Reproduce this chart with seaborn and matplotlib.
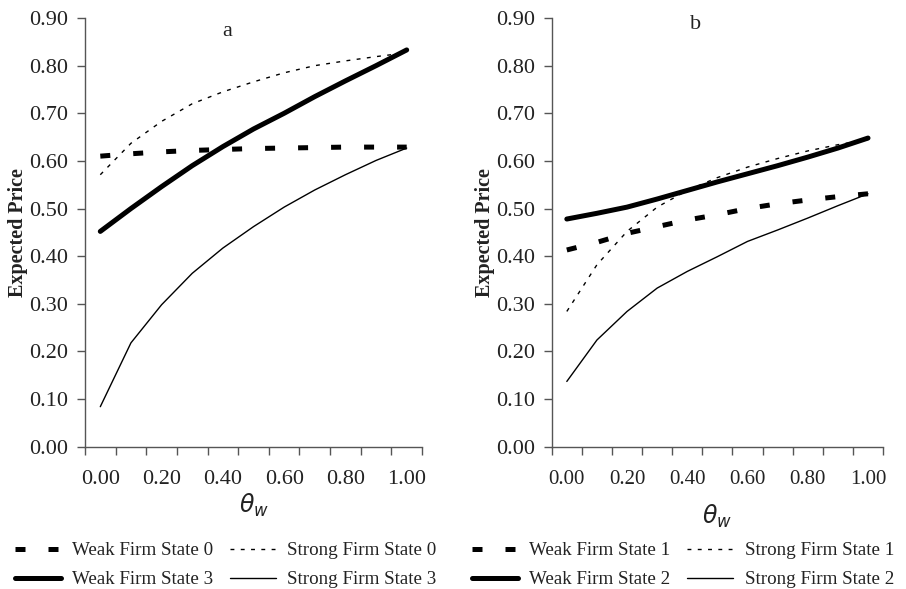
import numpy as np
import pandas as pd
import matplotlib
matplotlib.use("Agg")
import matplotlib.pyplot as plt
import matplotlib.ticker as mticker
import seaborn as sns

# theta_w categories (Excel-style category axis)
theta = [0.0, 0.1, 0.2, 0.3, 0.4, 0.5, 0.6, 0.7, 0.8, 0.9, 1.0]

# panel a
weak_state0 = [0.610, 0.615, 0.619, 0.622, 0.624, 0.626, 0.627, 0.628, 0.629, 0.629, 0.629]
strong_state0 = [0.571, 0.637, 0.683, 0.720, 0.745, 0.766, 0.785, 0.800, 0.810, 0.819, 0.827]
weak_state3 = [0.452, 0.500, 0.546, 0.590, 0.630, 0.667, 0.700, 0.735, 0.768, 0.800, 0.833]
strong_state3 = [0.084, 0.218, 0.298, 0.364, 0.417, 0.462, 0.503, 0.539, 0.571, 0.601, 0.627]

# panel b
weak_state1 = [0.413, 0.429, 0.448, 0.462, 0.476, 0.487, 0.500, 0.510, 0.518, 0.525, 0.531]
strong_state1 = [0.284, 0.382, 0.452, 0.503, 0.538, 0.565, 0.587, 0.605, 0.621, 0.634, 0.645]
weak_state2 = [0.478, 0.490, 0.503, 0.520, 0.538, 0.556, 0.573, 0.590, 0.608, 0.627, 0.648]
strong_state2 = [0.137, 0.224, 0.284, 0.333, 0.368, 0.399, 0.431, 0.455, 0.480, 0.506, 0.531]

y_ticks = [0.0, 0.1, 0.2, 0.3, 0.4, 0.5, 0.6, 0.7, 0.8, 0.9]
x_labels = [0.0, 0.2, 0.4, 0.6, 0.8, 1.0]

sns.set_style("ticks")
plt.rcParams["font.family"] = ["Liberation Serif", "DejaVu Serif"]
plt.rcParams["mathtext.fontset"] = "dejavusans"

TXT = "#222222"
SPINE = "#555555"

styles = {
    "weak_dash": dict(lw=3.6, linestyle=(0, (2.0, 4.6))),
    "strong_dot": dict(lw=1.0, linestyle=(0, (2.8, 4.6))),
    "weak_solid": dict(lw=3.6, linestyle="-", solid_capstyle="round"),
    "strong_solid": dict(lw=1.0, linestyle="-"),
}

fig = plt.figure(figsize=(9.06, 5.89), dpi=100)
ax_a = fig.add_axes([0.0938, 0.2416, 0.3720, 0.7278])
ax_b = fig.add_axes([0.6090, 0.2416, 0.3657, 0.7278])


def draw_panel(ax, series, tag, xfs, label_y):
    handles = []
    for vals, key, lab in series:
        sns.lineplot(x=theta, y=vals, ax=ax, color="black", legend=False, **styles[key])
        handles.append((ax.lines[-1], lab))
    ax.set_xlim(-0.05, 1.05)
    ax.set_ylim(0, 0.9)
    ax.set_yticks(y_ticks)
    ax.yaxis.set_major_formatter(mticker.FormatStrFormatter("%.2f"))
    ax.set_xticks(x_labels)
    ax.xaxis.set_major_formatter(mticker.FormatStrFormatter("%.2f"))
    ax.set_xticks(np.arange(-0.05, 1.06, 0.1), minor=True)
    ax.tick_params(axis="x", which="major", length=0, pad=17, labelsize=xfs, labelcolor=TXT)
    ax.tick_params(axis="x", which="minor", length=6, width=1, color=SPINE, direction="out")
    ax.tick_params(axis="y", length=6, width=1, color=SPINE, pad=6, labelsize=16, labelcolor=TXT)
    for s in ["top", "right"]:
        ax.spines[s].set_visible(False)
    for s in ["left", "bottom"]:
        ax.spines[s].set_color(SPINE)
        ax.spines[s].set_linewidth(1)
    ax.set_ylabel("Expected Price", fontweight="bold", fontsize=14.5, color=TXT)
    ax.yaxis.set_label_coords(-0.17, 0.5)
    ax.set_xlabel(r"$\theta_w$", fontsize=17, color=TXT)
    ax.xaxis.set_label_coords(0.5, label_y)
    ax.text(tag[1], tag[2], tag[0], transform=ax.transAxes, ha="center", va="center",
            fontsize=16, color=TXT)
    return handles


hand_a = draw_panel(ax_a, [
    (weak_state0, "weak_dash", "Weak Firm State 0"),
    (weak_state3, "weak_solid", "Weak Firm State 3"),
    (strong_state0, "strong_dot", "Strong Firm State 0"),
    (strong_state3, "strong_solid", "Strong Firm State 3"),
], ("a", 0.421, 0.968), 16, -0.105)

hand_b = draw_panel(ax_b, [
    (weak_state1, "weak_dash", "Weak Firm State 1"),
    (weak_state2, "weak_solid", "Weak Firm State 2"),
    (strong_state1, "strong_dot", "Strong Firm State 1"),
    (strong_state2, "strong_solid", "Strong Firm State 2"),
], ("b", 0.4325, 0.984), 15, -0.13)

for hands, x0 in [(hand_a, 0.0166), (hand_b, 0.521)]:
    leg = fig.legend([h for h, _ in hands], [l for _, l in hands],
                     loc="upper left", bbox_to_anchor=(x0, 0.080), ncol=2, frameon=False,
                     fontsize=13.7, handlelength=2.4, handletextpad=0.6,
                     columnspacing=0.9, labelspacing=0.62, borderpad=0, borderaxespad=0)
    for t in leg.get_texts():
        t.set_color(TXT)

fig.savefig("out.png", dpi=100)
plt.close(fig)
